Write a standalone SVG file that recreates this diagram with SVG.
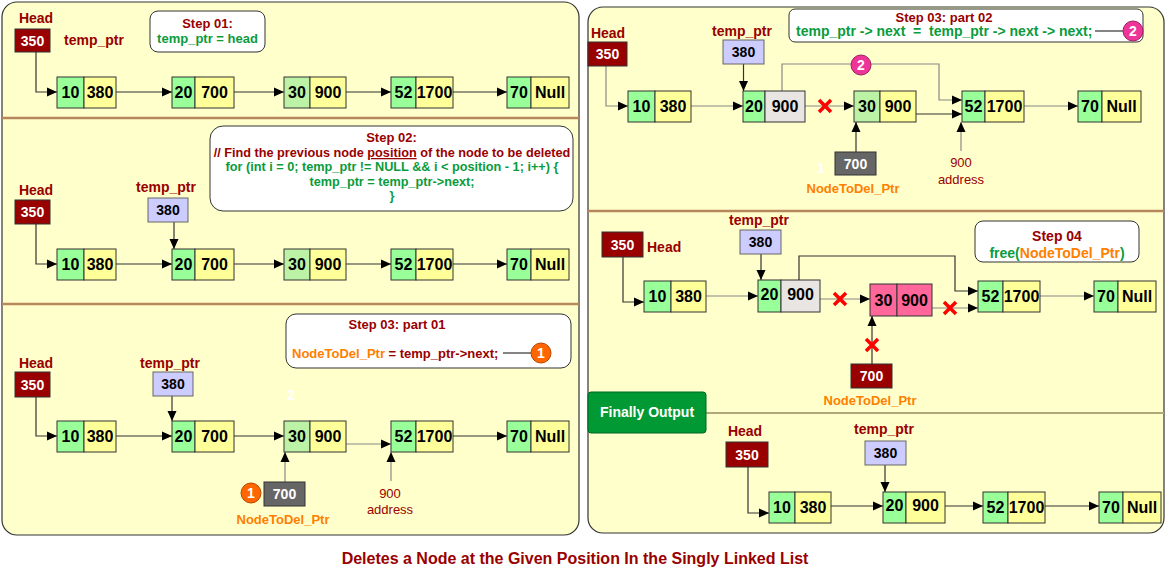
<svg xmlns="http://www.w3.org/2000/svg" width="1165" height="568" viewBox="0 0 1165 568">
<defs>
<style>
text{font-family:"Liberation Sans",Arial,sans-serif;font-weight:bold}
.pan{fill:#FFFFCC;stroke:#333;stroke-width:1.2}
.dv{stroke:#B5875A;stroke-width:2.5;fill:none}
.g{fill:#99FF99;stroke:#333;stroke-width:1}
.y{fill:#FFFF99;stroke:#333;stroke-width:1}
.lg{fill:#BCF2A6;stroke:#333;stroke-width:1}
.gr{fill:#E8E5E2;stroke:#333;stroke-width:1}
.pk{fill:#FF6699;stroke:#333;stroke-width:1}
.n text{font-size:16px;text-anchor:middle;fill:#000}
.hb{fill:#990000;stroke:#333;stroke-width:1}
.tb{fill:#CCCCFF;stroke:#666;stroke-width:1}
.db{fill:#666666;stroke:#333;stroke-width:1}
.bt{font-size:14px;text-anchor:middle;fill:#fff}
.bk{font-size:14px;text-anchor:middle;fill:#000}
.lb{font-size:14px;fill:#990000}
.mid{text-anchor:middle}
.st{font-size:13px;fill:#990000;text-anchor:middle}
.gt{fill:#0A9B3C}
.ot{fill:#FF7F00}
.rt{fill:#990000}
.sb{fill:#fff;stroke:#333;stroke-width:1}
.c{fill:none;stroke:#333;stroke-width:1.2;marker-end:url(#a)}
.cg{fill:none;stroke:#888;stroke-width:1.2;marker-end:url(#a)}
.ln{fill:none;stroke:#333;stroke-width:1.2}
.addr{font-size:13px;font-weight:normal;fill:#990000;text-anchor:middle}
</style>
<marker id="a" markerWidth="10" markerHeight="10" refX="10" refY="5" orient="auto" markerUnits="userSpaceOnUse"><path d="M0,0.5 L10,5 L0,9.5z" fill="#000"/></marker>
<g id="xm"><path d="M-6,-6 L6,6 M6,-6 L-6,6" stroke="#FF0000" stroke-width="3.5" fill="none"/></g>
</defs>

<!-- panels -->
<rect class="pan" x="2" y="2" width="577" height="533" rx="15"/>
<rect class="pan" x="588" y="7" width="576" height="526" rx="15"/>
<path class="dv" d="M2,118 H579 M2,304 H579 M588,211 H1164"/>
<path d="M706,413 H1164" stroke="#B0A878" stroke-width="2" fill="none"/>

<g id="connectors">
<!-- panel 1 -->
<path class="c" d="M36,52 V92 H57"/>
<path class="c" d="M116,92 H172"/>
<path class="c" d="M234,92 H284"/>
<path class="c" d="M346,92 H391"/>
<path class="c" d="M453,92 H507"/>
<!-- panel 2 -->
<path class="c" d="M36,224 V264 H57"/>
<path class="c" d="M174,222 V249"/>
<path class="c" d="M116,264 H172"/>
<path class="c" d="M234,264 H284"/>
<path class="c" d="M346,264 H391"/>
<path class="c" d="M453,264 H507"/>
<!-- panel 3 -->
<path class="c" d="M36,397 V436 H57"/>
<path class="c" d="M172,396 V421"/>
<path class="c" d="M116,436 H172"/>
<path class="c" d="M234,436 H284"/>
<path class="cg" d="M346,444 H391"/>
<path class="c" d="M453,436 H507"/>
<path class="cg" d="M285,482 V452"/>
<path class="cg" d="M391,481 V452"/>
<!-- right top -->
<path class="cg" d="M606,66 V106 H628"/>
<path class="cg" d="M691,106 H743"/>
<path class="c" d="M743.5,64 V91"/>
<path class="cg" d="M805,106 H854"/>
<path class="cg" d="M782,91 V64 H939 V100 H962"/>
<path class="c" d="M916,114 H962"/>
<path class="cg" d="M1024,106 H1078"/>
<path class="c" d="M856,152 V122"/>
<path class="cg" d="M961,151 V122"/>
<!-- step 04 -->
<path class="c" d="M623,257 V302 H644"/>
<path class="cg" d="M706,296 H758"/>
<path class="c" d="M761,254 V280"/>
<path class="cg" d="M820,299 H870"/>
<path class="c" d="M799,280 V256 H955 V291 H978"/>
<path class="cg" d="M932,308 H978"/>
<path class="cg" d="M1040,296 H1094"/>
<path class="c" d="M872,364 V316"/>
<!-- final -->
<path class="c" d="M748,467 V513 H769"/>
<path class="c" d="M831,506 H883"/>
<path class="c" d="M885,465 V492"/>
<path class="c" d="M945,506 H983"/>
<path class="c" d="M1045,506 H1099"/>
<!-- crosses -->
<use href="#xm" x="825" y="106"/>
<use href="#xm" x="840" y="299"/>
<use href="#xm" x="950" y="308"/>
<use href="#xm" x="872" y="345"/>
</g>

<!-- ===== Panel 1 ===== -->
<g id="p1-head">
<text class="lb mid" x="36" y="23">Head</text>
<rect class="hb" x="15" y="29" width="35" height="23"/>
<text class="bt" x="32.5" y="46">350</text>
<text class="lb" x="64" y="45">temp_ptr</text>
</g>
<g id="p1-step">
<rect class="sb" x="150" y="11" width="115" height="41" rx="8"/>
<text class="st" x="207.5" y="28">Step 01:</text>
<text class="gt mid" font-size="13" x="207.5" y="43">temp_ptr = head</text>
</g>
<g id="p1n1" class="n"><rect class="g" x="57" y="77" width="27" height="31"/><rect class="y" x="84" y="77" width="32" height="31"/><text x="70.5" y="98">10</text><text x="100" y="98">380</text></g>
<g id="p1n2" class="n"><rect class="g" x="172" y="77" width="23" height="31"/><rect class="y" x="195" y="77" width="39" height="31"/><text x="183.5" y="98">20</text><text x="214.5" y="98">700</text></g>
<g id="p1n3" class="n"><rect class="lg" x="284" y="77" width="26" height="31"/><rect class="y" x="310" y="77" width="36" height="31"/><text x="297" y="98">30</text><text x="328" y="98">900</text></g>
<g id="p1n4" class="n"><rect class="g" x="391" y="77" width="25" height="31"/><rect class="y" x="416" y="77" width="37" height="31"/><text x="403.5" y="98">52</text><text x="434.5" y="98">1700</text></g>
<g id="p1n5" class="n"><rect class="g" x="507" y="77" width="24" height="31"/><rect class="y" x="531" y="77" width="38" height="31"/><text x="519" y="98">70</text><text x="550" y="98">Null</text></g>

<!-- ===== Panel 2 ===== -->
<g id="p2-head">
<text class="lb mid" x="36" y="195">Head</text>
<rect class="hb" x="15" y="200" width="35" height="24"/>
<text class="bt" x="32.5" y="217">350</text>
</g>
<g id="p2-temp">
<text class="lb mid" x="166" y="192">temp_ptr</text>
<rect class="tb" x="148" y="198" width="40" height="24"/>
<text class="bk" x="168" y="215">380</text>
</g>
<g id="p2-step">
<rect class="sb" x="210" y="126" width="363" height="85" rx="13"/>
<text class="st" x="391.5" y="142">Step 02:</text>
<text class="rt mid" font-size="12.7" x="392" y="157">// Find the previous node <tspan text-decoration="underline">position</tspan> of the node to be deleted</text>
<text class="gt mid" font-size="12.7" x="392" y="171">for (int i = 0; temp_ptr != NULL &amp;&amp; i &lt; position - 1; i++) {</text>
<text class="gt mid" font-size="12.7" x="392" y="186">temp_ptr = temp_ptr-&gt;next;</text>
<text class="gt mid" font-size="12.7" x="392" y="200">}</text>
</g>
<g id="p2n1" class="n"><rect class="g" x="57" y="249" width="27" height="31"/><rect class="y" x="84" y="249" width="32" height="31"/><text x="70.5" y="270">10</text><text x="100" y="270">380</text></g>
<g id="p2n2" class="n"><rect class="g" x="172" y="249" width="23" height="31"/><rect class="y" x="195" y="249" width="39" height="31"/><text x="183.5" y="270">20</text><text x="214.5" y="270">700</text></g>
<g id="p2n3" class="n"><rect class="lg" x="284" y="249" width="26" height="31"/><rect class="y" x="310" y="249" width="36" height="31"/><text x="297" y="270">30</text><text x="328" y="270">900</text></g>
<g id="p2n4" class="n"><rect class="g" x="391" y="249" width="25" height="31"/><rect class="y" x="416" y="249" width="37" height="31"/><text x="403.5" y="270">52</text><text x="434.5" y="270">1700</text></g>
<g id="p2n5" class="n"><rect class="g" x="507" y="249" width="24" height="31"/><rect class="y" x="531" y="249" width="38" height="31"/><text x="519" y="270">70</text><text x="550" y="270">Null</text></g>

<!-- ===== Panel 3 ===== -->
<g id="p3-head">
<text class="lb mid" x="36" y="368">Head</text>
<rect class="hb" x="15" y="372" width="35" height="25"/>
<text class="bt" x="32.5" y="390">350</text>
</g>
<g id="p3-temp">
<text class="lb mid" x="170" y="368">temp_ptr</text>
<rect class="tb" x="153" y="372" width="40" height="24"/>
<text class="bk" x="173" y="389">380</text>
</g>
<text x="291" y="400" font-size="14" fill="#fff" class="mid">2</text>
<g id="p3-step">
<rect class="sb" x="286" y="314" width="285" height="54" rx="10"/>
<text class="st" x="397" y="329">Step 03: part 01</text>
<text font-size="13" x="292" y="358"><tspan class="ot">NodeToDel_Ptr</tspan><tspan class="rt"> = temp_ptr-&gt;next;</tspan></text>
<path class="ln" d="M503,353 H531"/>
<circle cx="541" cy="353" r="10" fill="#FF6600" stroke="#B84700"/>
<text class="bt" font-size="13" x="541" y="358">1</text>
</g>
<g id="p3n1" class="n"><rect class="g" x="57" y="421" width="27" height="31"/><rect class="y" x="84" y="421" width="32" height="31"/><text x="70.5" y="442">10</text><text x="100" y="442">380</text></g>
<g id="p3n2" class="n"><rect class="g" x="172" y="421" width="23" height="31"/><rect class="y" x="195" y="421" width="39" height="31"/><text x="183.5" y="442">20</text><text x="214.5" y="442">700</text></g>
<g id="p3n3" class="n"><rect class="lg" x="284" y="421" width="26" height="31"/><rect class="y" x="310" y="421" width="36" height="31"/><text x="297" y="442">30</text><text x="328" y="442">900</text></g>
<g id="p3n4" class="n"><rect class="g" x="391" y="421" width="25" height="31"/><rect class="y" x="416" y="421" width="37" height="31"/><text x="403.5" y="442">52</text><text x="434.5" y="442">1700</text></g>
<g id="p3n5" class="n"><rect class="g" x="507" y="421" width="24" height="31"/><rect class="y" x="531" y="421" width="38" height="31"/><text x="519" y="442">70</text><text x="550" y="442">Null</text></g>
<g id="p3-del">
<circle cx="251" cy="493" r="10" fill="#FF6600" stroke="#B84700"/>
<text class="bt" font-size="13" x="251" y="498">1</text>
<rect class="db" x="264" y="482" width="41" height="24"/>
<text class="bt" fill="#eee" x="284.5" y="499">700</text>
<text class="ot mid" font-size="13" x="283" y="524">NodeToDel_Ptr</text>
</g>
<g id="p3-addr">
<text class="addr" x="390" y="498">900</text>
<text class="addr" x="390" y="514">address</text>
</g>

<!-- ===== Right top: Step 03 part 02 ===== -->
<g id="r1-step">
<rect class="sb" x="789" y="9" width="354" height="33" rx="6"/>
<text class="st" x="944" y="21.5">Step 03: part 02</text>
<text class="gt" font-size="14" x="796" y="36" xml:space="preserve">temp_ptr -&gt; next  =  temp_ptr -&gt; next -&gt; next;</text>
<path class="ln" d="M1095,31 H1123"/>
<circle cx="1133" cy="31" r="10" fill="#EE3399" stroke="#A0205F"/>
<text class="bt" font-size="13" x="1133" y="36">2</text>
</g>
<g id="r1-head">
<text class="lb mid" x="608" y="38">Head</text>
<rect class="hb" x="588" y="42" width="39" height="24"/>
<text class="bt" x="607.5" y="59">350</text>
</g>
<g id="r1-temp">
<text class="lb mid" x="742" y="36">temp_ptr</text>
<rect class="tb" x="723" y="40" width="41" height="24"/>
<text class="bk" x="743.5" y="57">380</text>
</g>
<circle cx="861" cy="65" r="10" fill="#EE3399" stroke="#A0205F"/>
<text class="bt" font-size="13" x="861" y="70">2</text>
<g id="r1n1" class="n"><rect class="g" x="628" y="91" width="27" height="31"/><rect class="y" x="655" y="91" width="36" height="31"/><text x="641.5" y="112">10</text><text x="673" y="112">380</text></g>
<g id="r1n2" class="n"><rect class="g" x="743" y="91" width="22" height="31"/><rect class="gr" x="765" y="91" width="40" height="31"/><text x="754" y="112">20</text><text x="785" y="112">900</text></g>
<g id="r1n3" class="n"><rect class="lg" x="854" y="91" width="26" height="31"/><rect class="y" x="880" y="91" width="36" height="31"/><text x="867" y="112">30</text><text x="898" y="112">900</text></g>
<g id="r1n4" class="n"><rect class="g" x="962" y="91" width="23" height="31"/><rect class="y" x="985" y="91" width="39" height="31"/><text x="973.5" y="112">52</text><text x="1004.5" y="112">1700</text></g>
<g id="r1n5" class="n"><rect class="g" x="1078" y="91" width="24" height="31"/><rect class="y" x="1102" y="91" width="39" height="31"/><text x="1090" y="112">70</text><text x="1121.5" y="112">Null</text></g>
<g id="r1-del">
<text x="821" y="173" font-size="14" fill="#fff" class="mid">1</text>
<rect class="db" x="835" y="152" width="41" height="23"/>
<text class="bt" fill="#eee" x="855.5" y="169">700</text>
<text class="ot mid" font-size="13" x="853" y="193">NodeToDel_Ptr</text>
</g>
<g id="r1-addr">
<text class="addr" x="961" y="167">900</text>
<text class="addr" x="961" y="184">address</text>
</g>

<!-- ===== Right middle: Step 04 ===== -->
<g id="r2-head">
<rect class="hb" x="602" y="232" width="41" height="25"/>
<text class="bt" x="622.5" y="250">350</text>
<text class="lb" x="647" y="252">Head</text>
</g>
<g id="r2-temp">
<text class="lb mid" x="759" y="225">temp_ptr</text>
<rect class="tb" x="740" y="230" width="41" height="24"/>
<text class="bk" x="760.5" y="247">380</text>
</g>
<g id="r2-step">
<rect class="sb" x="975" y="221" width="164" height="41" rx="8"/>
<text class="rt mid" font-size="14" x="1057" y="241">Step 04</text>
<text font-size="14" x="1057" y="258" class="mid"><tspan class="gt">free(</tspan><tspan class="ot">NodeToDel_Ptr</tspan><tspan class="gt">)</tspan></text>
</g>
<g id="r2n1" class="n"><rect class="g" x="644" y="281" width="27" height="31"/><rect class="y" x="671" y="281" width="35" height="31"/><text x="657.5" y="302">10</text><text x="688.5" y="302">380</text></g>
<g id="r2n2" class="n"><rect class="g" x="758" y="280" width="23" height="32"/><rect class="gr" x="781" y="280" width="39" height="32"/><text x="769.5" y="300">20</text><text x="800.5" y="300">900</text></g>
<g id="r2n3" class="n"><rect class="pk" x="870" y="284" width="27" height="32"/><rect class="pk" x="897" y="284" width="35" height="32"/><text x="883.5" y="306">30</text><text x="914.5" y="306">900</text></g>
<g id="r2n4" class="n"><rect class="g" x="978" y="281" width="25" height="31"/><rect class="y" x="1003" y="281" width="37" height="31"/><text x="990.5" y="302">52</text><text x="1021.5" y="302">1700</text></g>
<g id="r2n5" class="n"><rect class="g" x="1094" y="281" width="24" height="31"/><rect class="y" x="1118" y="281" width="38" height="31"/><text x="1106" y="302">70</text><text x="1137" y="302">Null</text></g>
<g id="r2-del">
<rect class="hb" x="851" y="364" width="41" height="24"/>
<text class="bt" x="871.5" y="381">700</text>
<text class="ot mid" font-size="13" x="870" y="405">NodeToDel_Ptr</text>
</g>

<!-- ===== Finally Output ===== -->
<g id="final-label">
<rect x="588" y="392" width="118" height="41" rx="3" fill="#009933" stroke="#006622"/>
<text class="bt" x="647" y="417">Finally Output</text>
</g>
<g id="f-head">
<text class="lb mid" x="745" y="436">Head</text>
<rect class="hb" x="726" y="442" width="42" height="25"/>
<text class="bt" x="747" y="460">350</text>
</g>
<g id="f-temp">
<text class="lb mid" x="884" y="434">temp_ptr</text>
<rect class="tb" x="865" y="441" width="41" height="24"/>
<text class="bk" x="885.5" y="458">380</text>
</g>
<g id="fn1" class="n"><rect class="g" x="769" y="492" width="26" height="31"/><rect class="y" x="795" y="492" width="36" height="31"/><text x="782" y="513">10</text><text x="813" y="513">380</text></g>
<g id="fn2" class="n"><rect class="g" x="883" y="492" width="23" height="31"/><rect class="y" x="906" y="492" width="39" height="31"/><text x="894.5" y="511">20</text><text x="925.5" y="511">900</text></g>
<g id="fn3" class="n"><rect class="g" x="983" y="492" width="25" height="31"/><rect class="y" x="1008" y="492" width="37" height="31"/><text x="995.5" y="513">52</text><text x="1026.5" y="513">1700</text></g>
<g id="fn4" class="n"><rect class="g" x="1099" y="492" width="24" height="31"/><rect class="y" x="1123" y="492" width="38" height="31"/><text x="1111" y="513">70</text><text x="1142" y="513">Null</text></g>

<text class="rt mid" font-size="16" x="575" y="564">Deletes a Node at the Given Position In the Singly Linked List</text>
</svg>
